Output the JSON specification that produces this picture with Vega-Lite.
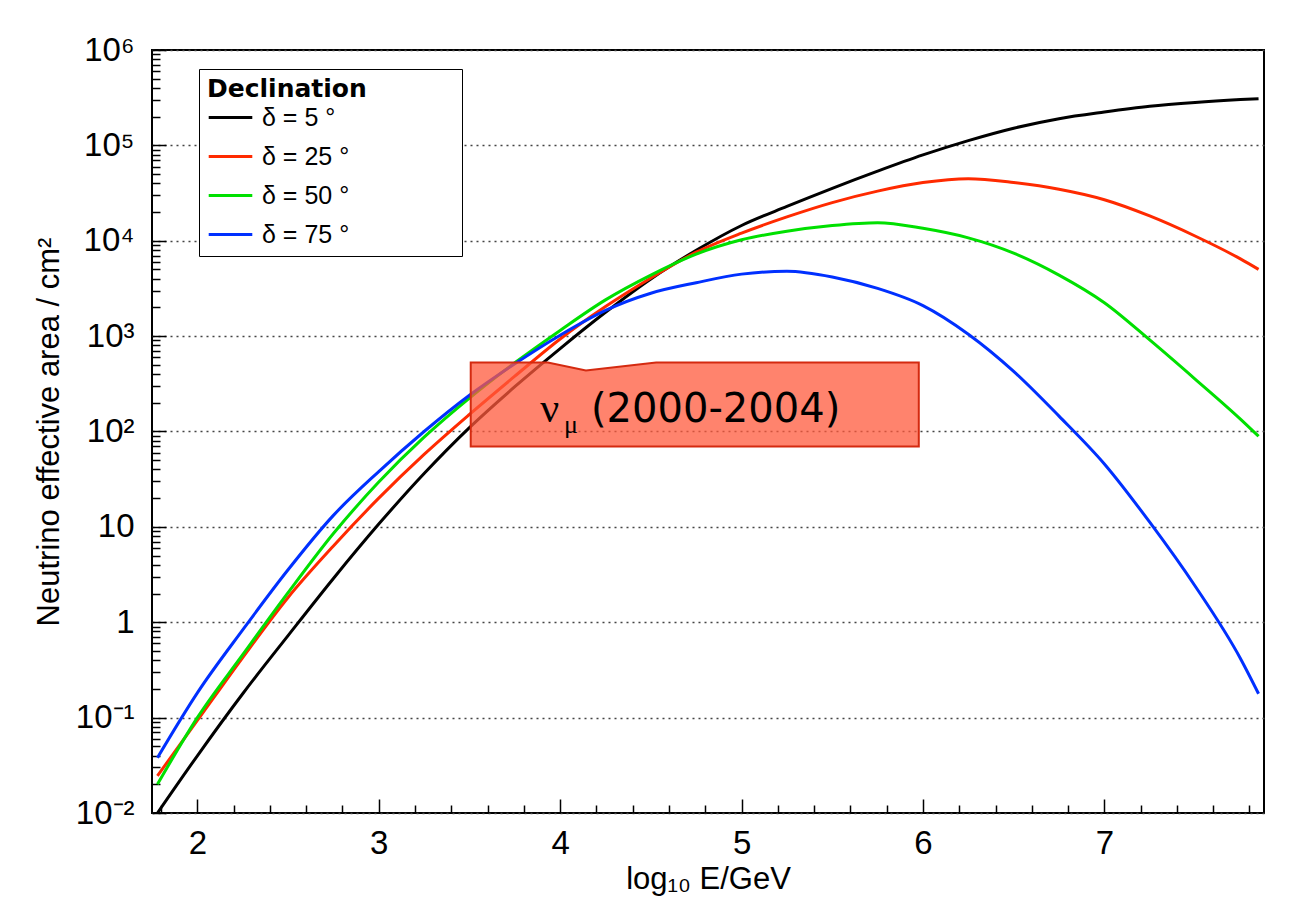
{
  "$schema": "https://vega.github.io/schema/vega-lite/v6.json",
  "width": 1112,
  "height": 763,
  "autosize": "none",
  "padding": {"left": 152, "top": 50, "right": 48, "bottom": 86},
  "background": "white",
  "config": {"font": "Liberation Sans", "view": {"stroke": "black", "strokeWidth": 2}},
  "datasets": {
    "curves": [
      {"x": 1.78, "A": 0.01, "d": "δ = 5 °"}, {"x": 2.0, "A": 0.0398, "d": "δ = 5 °"}, {"x": 2.25, "A": 0.178, "d": "δ = 5 °"}, {"x": 2.5, "A": 0.724, "d": "δ = 5 °"}, {"x": 2.75, "A": 2.88, "d": "δ = 5 °"}, {"x": 3.0, "A": 10.7, "d": "δ = 5 °"}, {"x": 3.25, "A": 36.3, "d": "δ = 5 °"}, {"x": 3.5, "A": 110, "d": "δ = 5 °"}, {"x": 3.75, "A": 295, "d": "δ = 5 °"}, {"x": 4.0, "A": 741, "d": "δ = 5 °"}, {"x": 4.25, "A": 1778, "d": "δ = 5 °"}, {"x": 4.5, "A": 3981, "d": "δ = 5 °"}, {"x": 4.75, "A": 7943, "d": "δ = 5 °"}, {"x": 5.0, "A": 14454, "d": "δ = 5 °"}, {"x": 5.25, "A": 22909, "d": "δ = 5 °"}, {"x": 5.5, "A": 35481, "d": "δ = 5 °"}, {"x": 5.75, "A": 53703, "d": "δ = 5 °"}, {"x": 6.0, "A": 79433, "d": "δ = 5 °"}, {"x": 6.25, "A": 112202, "d": "δ = 5 °"}, {"x": 6.5, "A": 151356, "d": "δ = 5 °"}, {"x": 6.75, "A": 190546, "d": "δ = 5 °"}, {"x": 7.0, "A": 223872, "d": "δ = 5 °"}, {"x": 7.25, "A": 257040, "d": "δ = 5 °"}, {"x": 7.5, "A": 281838, "d": "δ = 5 °"}, {"x": 7.75, "A": 301995, "d": "δ = 5 °"}, {"x": 7.85, "A": 309030, "d": "δ = 5 °"},
      {"x": 1.78, "A": 0.0245, "d": "δ = 25 °"}, {"x": 2.0, "A": 0.0933, "d": "δ = 25 °"}, {"x": 2.25, "A": 0.427, "d": "δ = 25 °"}, {"x": 2.5, "A": 1.82, "d": "δ = 25 °"}, {"x": 2.75, "A": 6.31, "d": "δ = 25 °"}, {"x": 3.0, "A": 20.0, "d": "δ = 25 °"}, {"x": 3.25, "A": 57.5, "d": "δ = 25 °"}, {"x": 3.5, "A": 151, "d": "δ = 25 °"}, {"x": 3.75, "A": 380, "d": "δ = 25 °"}, {"x": 4.0, "A": 933, "d": "δ = 25 °"}, {"x": 4.25, "A": 2042, "d": "δ = 25 °"}, {"x": 4.5, "A": 4074, "d": "δ = 25 °"}, {"x": 4.75, "A": 7586, "d": "δ = 25 °"}, {"x": 5.0, "A": 12023, "d": "δ = 25 °"}, {"x": 5.25, "A": 17783, "d": "δ = 25 °"}, {"x": 5.5, "A": 25119, "d": "δ = 25 °"}, {"x": 5.75, "A": 33113, "d": "δ = 25 °"}, {"x": 6.0, "A": 40738, "d": "δ = 25 °"}, {"x": 6.25, "A": 44668, "d": "δ = 25 °"}, {"x": 6.5, "A": 40738, "d": "δ = 25 °"}, {"x": 6.75, "A": 34674, "d": "δ = 25 °"}, {"x": 7.0, "A": 26915, "d": "δ = 25 °"}, {"x": 7.25, "A": 18197, "d": "δ = 25 °"}, {"x": 7.5, "A": 11220, "d": "δ = 25 °"}, {"x": 7.75, "A": 6457, "d": "δ = 25 °"}, {"x": 7.85, "A": 5012, "d": "δ = 25 °"},
      {"x": 1.78, "A": 0.02, "d": "δ = 50 °"}, {"x": 2.0, "A": 0.1, "d": "δ = 50 °"}, {"x": 2.25, "A": 0.457, "d": "δ = 50 °"}, {"x": 2.5, "A": 2.04, "d": "δ = 50 °"}, {"x": 2.75, "A": 8.51, "d": "δ = 50 °"}, {"x": 3.0, "A": 29.5, "d": "δ = 50 °"}, {"x": 3.25, "A": 87.1, "d": "δ = 50 °"}, {"x": 3.5, "A": 224, "d": "δ = 50 °"}, {"x": 3.75, "A": 525, "d": "δ = 50 °"}, {"x": 4.0, "A": 1148, "d": "δ = 50 °"}, {"x": 4.25, "A": 2399, "d": "δ = 50 °"}, {"x": 4.5, "A": 4365, "d": "δ = 50 °"}, {"x": 4.75, "A": 7244, "d": "δ = 50 °"}, {"x": 5.0, "A": 10233, "d": "δ = 50 °"}, {"x": 5.25, "A": 12589, "d": "δ = 50 °"}, {"x": 5.5, "A": 14454, "d": "δ = 50 °"}, {"x": 5.75, "A": 15488, "d": "δ = 50 °"}, {"x": 6.0, "A": 13490, "d": "δ = 50 °"}, {"x": 6.25, "A": 10715, "d": "δ = 50 °"}, {"x": 6.5, "A": 7413, "d": "δ = 50 °"}, {"x": 6.75, "A": 4365, "d": "δ = 50 °"}, {"x": 7.0, "A": 2239, "d": "δ = 50 °"}, {"x": 7.25, "A": 912, "d": "δ = 50 °"}, {"x": 7.5, "A": 355, "d": "δ = 50 °"}, {"x": 7.75, "A": 135, "d": "δ = 50 °"}, {"x": 7.85, "A": 89.1, "d": "δ = 50 °"},
      {"x": 1.78, "A": 0.038, "d": "δ = 75 °"}, {"x": 2.0, "A": 0.182, "d": "δ = 75 °"}, {"x": 2.25, "A": 0.832, "d": "δ = 75 °"}, {"x": 2.5, "A": 3.55, "d": "δ = 75 °"}, {"x": 2.75, "A": 13.2, "d": "δ = 75 °"}, {"x": 3.0, "A": 38.0, "d": "δ = 75 °"}, {"x": 3.25, "A": 100, "d": "δ = 75 °"}, {"x": 3.5, "A": 240, "d": "δ = 75 °"}, {"x": 3.75, "A": 513, "d": "δ = 75 °"}, {"x": 4.0, "A": 1023, "d": "δ = 75 °"}, {"x": 4.25, "A": 1862, "d": "δ = 75 °"}, {"x": 4.5, "A": 2818, "d": "δ = 75 °"}, {"x": 4.75, "A": 3631, "d": "δ = 75 °"}, {"x": 5.0, "A": 4467, "d": "δ = 75 °"}, {"x": 5.25, "A": 4786, "d": "δ = 75 °"}, {"x": 5.5, "A": 4169, "d": "δ = 75 °"}, {"x": 5.75, "A": 3162, "d": "δ = 75 °"}, {"x": 6.0, "A": 2089, "d": "δ = 75 °"}, {"x": 6.25, "A": 1047, "d": "δ = 75 °"}, {"x": 6.5, "A": 427, "d": "δ = 75 °"}, {"x": 6.75, "A": 145, "d": "δ = 75 °"}, {"x": 7.0, "A": 45.7, "d": "δ = 75 °"}, {"x": 7.25, "A": 11.2, "d": "δ = 75 °"}, {"x": 7.5, "A": 2.40, "d": "δ = 75 °"}, {"x": 7.75, "A": 0.417, "d": "δ = 75 °"}, {"x": 7.85, "A": 0.178, "d": "δ = 75 °"}
    ],
    "box": [
      {"x": 3.507, "top": 530, "bottom": 69.8},
      {"x": 3.932, "top": 530, "bottom": 69.8},
      {"x": 4.142, "top": 437, "bottom": 69.8},
      {"x": 4.529, "top": 530, "bottom": 69.8},
      {"x": 5.977, "top": 530, "bottom": 69.8}
    ],
    "nu": [{"x": 3.943, "A": 124.5, "t": "ν"}],
    "mu": [{"x": 4.021, "A": 95.5, "t": "μ"}],
    "years": [{"x": 4.17, "A": 124.5, "t": "(2000-2004)"}]
  },
  "resolve": {"axis": {"x": "independent"}},
  "layer": [
    {
      "data": {"name": "curves"},
      "mark": {"type": "line", "strokeWidth": 3, "interpolate": "monotone", "clip": true},
      "encoding": {
        "x": {
          "field": "x", "type": "quantitative",
          "scale": {"domain": [1.75, 7.88], "nice": false, "zero": false},
          "axis": {
            "orient": "bottom",
            "title": "log₁₀ E/GeV", "titleFontSize": 31, "titleFontWeight": "normal", "titleColor": "black", "titlePadding": 4,
            "values": [2, 3, 4, 5, 6, 7], "format": "d",
            "labelFontSize": 33, "labelColor": "black", "labelPadding": 28, "labelFlush": false, "labelOverlap": false,
            "domain": false, "grid": false, "tickColor": "black", "tickWidth": 1.5, "tickSize": -14
          }
        },
        "y": {
          "field": "A", "type": "quantitative",
          "scale": {"type": "log", "domain": [0.01, 1000000], "nice": false},
          "axis": {
            "title": "Neutrino effective area / cm²", "titleFontSize": 31, "titleFontWeight": "normal", "titleColor": "black", "titlePadding": 10,
            "values": [0.01, 0.02, 0.03, 0.04, 0.05, 0.06, 0.07, 0.08, 0.09, 0.1, 0.2, 0.3, 0.4, 0.5, 0.6, 0.7, 0.8, 0.9, 1, 2, 3, 4, 5, 6, 7, 8, 9, 10, 20, 30, 40, 50, 60, 70, 80, 90, 100, 200, 300, 400, 500, 600, 700, 800, 900, 1000, 2000, 3000, 4000, 5000, 6000, 7000, 8000, 9000, 10000, 20000, 30000, 40000, 50000, 60000, 70000, 80000, 90000, 100000, 200000, 300000, 400000, 500000, 600000, 700000, 800000, 900000, 1000000],
            "labelExpr": "abs(log(datum.value)/LN10 - round(log(datum.value)/LN10)) < 0.001 ? ['10⁻²','10⁻¹','1','10','10²','10³','10⁴','10⁵','10⁶'][round(log(datum.value)/LN10)+2] : ''",
            "labelFontSize": 33, "labelColor": "black", "labelPadding": 32, "labelFlush": false, "labelOverlap": false,
            "domain": false, "tickColor": "black", "tickWidth": 1.5,
            "tickSize": {"condition": {"test": "abs(log(datum.value)/LN10 - round(log(datum.value)/LN10)) < 0.001", "value": -14}, "value": -8},
            "grid": true, "gridColor": "#444", "gridDash": [2, 4], "gridWidth": 1.5,
            "gridOpacity": {"condition": {"test": "abs(log(datum.value)/LN10 - round(log(datum.value)/LN10)) < 0.001", "value": 1}, "value": 0}
          }
        },
        "color": {
          "field": "d", "type": "nominal",
          "scale": {"domain": ["δ = 5 °", "δ = 25 °", "δ = 50 °", "δ = 75 °"], "range": ["#000000", "#ff2a00", "#00e000", "#0030ff"]},
          "legend": {
            "orient": "none", "legendX": 47, "legendY": 19,
            "title": "Declination\u2800\u2800\u2800 \u2800", "titleFont": "DejaVu Sans", "titleFontSize": 25, "titleFontWeight": "bold", "titleColor": "black", "titlePadding": -8, "titleLimit": 400,
            "labelFontSize": 25, "labelColor": "black", "labelOffset": 8,
            "symbolType": "stroke", "symbolSize": 1900, "symbolStrokeWidth": 3,
            "strokeColor": "black", "fillColor": "white", "padding": 8, "rowPadding": 2
          }
        }
      }
    },
    {
      "data": {"name": "box"},
      "mark": {"type": "area", "fill": "#ff5a3c", "fillOpacity": 0.75, "stroke": "#d42a10", "strokeWidth": 2},
      "encoding": {
        "x": {
          "field": "x", "type": "quantitative",
          "axis": {
            "orient": "bottom", "title": null, "labels": false, "domain": false, "grid": false,
            "values": [1.8, 2.2, 2.4, 2.6, 2.8, 3.2, 3.4, 3.6, 3.8, 4.2, 4.4, 4.6, 4.8, 5.2, 5.4, 5.6, 5.8, 6.2, 6.4, 6.6, 6.8, 7.2, 7.4, 7.6, 7.8],
            "tickColor": "black", "tickWidth": 1.5, "tickSize": -8
          }
        },
        "y": {"field": "top", "type": "quantitative"},
        "y2": {"field": "bottom"}
      }
    },
    {
      "data": {"name": "nu"},
      "mark": {"type": "text", "font": "Liberation Serif", "fontSize": 42, "align": "center", "baseline": "alphabetic", "color": "black"},
      "encoding": {
        "x": {"field": "x", "type": "quantitative", "axis": null},
        "y": {"field": "A", "type": "quantitative"},
        "text": {"field": "t"}
      }
    },
    {
      "data": {"name": "mu"},
      "mark": {"type": "text", "font": "Liberation Serif", "fontSize": 26, "align": "left", "baseline": "alphabetic", "color": "black"},
      "encoding": {
        "x": {"field": "x", "type": "quantitative", "axis": null},
        "y": {"field": "A", "type": "quantitative"},
        "text": {"field": "t"}
      }
    },
    {
      "data": {"name": "years"},
      "mark": {"type": "text", "font": "DejaVu Sans", "fontSize": 40, "align": "left", "baseline": "alphabetic", "color": "black"},
      "encoding": {
        "x": {"field": "x", "type": "quantitative", "axis": null},
        "y": {"field": "A", "type": "quantitative"},
        "text": {"field": "t"}
      }
    }
  ]
}
